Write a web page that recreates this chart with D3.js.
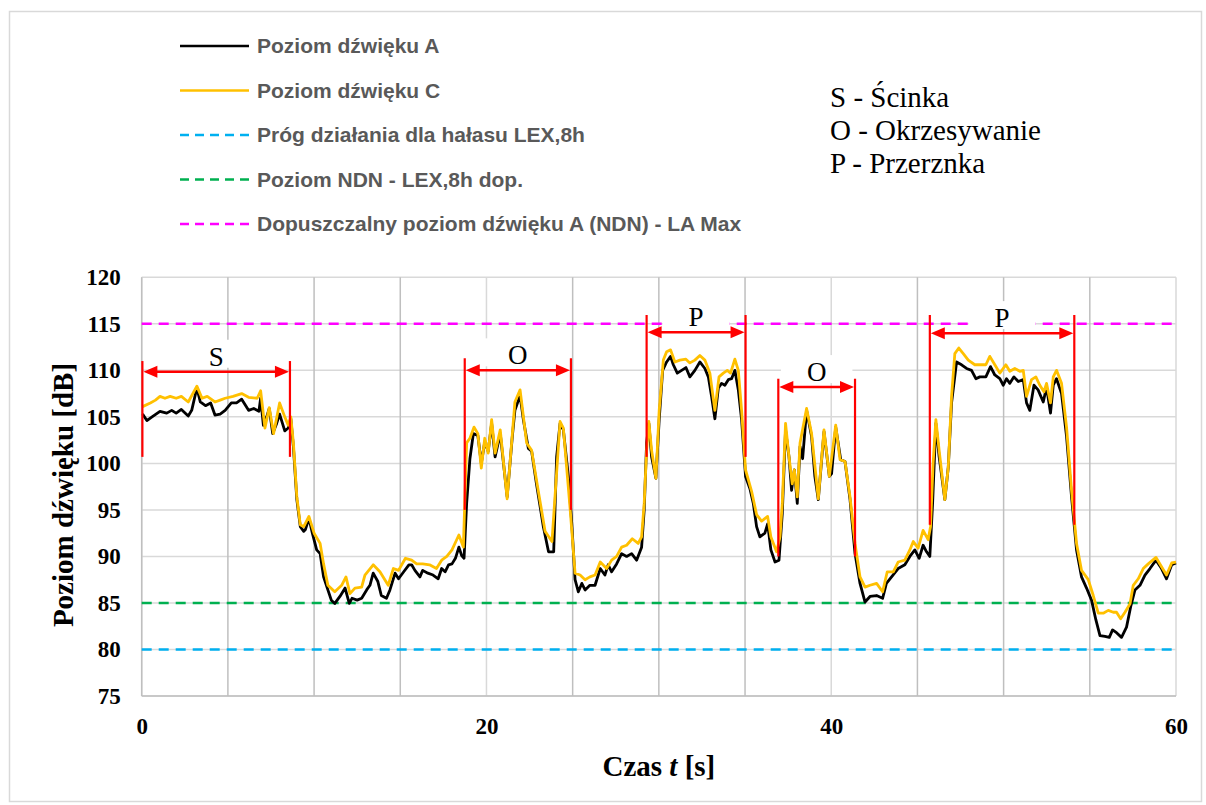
<!DOCTYPE html>
<html>
<head>
<meta charset="utf-8">
<script src="https://d3js.org/d3.v7.min.js"></script>
<style>
    body { margin: 0; background: #fff; }
    svg { display: block; }
</style>
</head>
<body>
<svg id="chart" width="1206" height="805"></svg>
<script>
// czas [s] i poziom dźwięku A [dB]
const timeA = [0.05, 0.3, 0.6, 1.06, 1.45, 1.74, 2.0, 2.3, 2.7, 2.9, 3.2, 3.4, 3.7, 4.0, 4.25, 4.55, 4.84, 5.2, 5.5, 5.8, 6.2, 6.5, 6.8, 6.9, 7.06, 7.25, 7.4, 7.6, 7.83, 8.0, 8.3, 8.5, 8.65, 8.8, 9.0, 9.2, 9.4, 9.5, 9.7, 9.9, 10.15, 10.35, 10.55, 10.8, 11.0, 11.2, 11.5, 11.8, 12.04, 12.2, 12.5, 12.76, 13.05, 13.24, 13.43, 13.7, 13.9, 14.2, 14.4, 14.7, 14.9, 15.2, 15.5, 15.66, 15.85, 16.14, 16.3, 16.6, 16.9, 17.2, 17.4, 17.6, 17.8, 18.0, 18.2, 18.4, 18.56, 18.7, 18.85, 19.04, 19.24, 19.5, 19.7, 19.9, 20.1, 20.3, 20.5, 20.8, 21.2, 21.5, 21.65, 21.95, 22.14, 22.43, 22.62, 22.9, 23.3, 23.6, 23.9, 24.07, 24.27, 24.46, 24.75, 24.95, 25.14, 25.33, 25.53, 25.72, 26.0, 26.3, 26.6, 26.87, 27.06, 27.26, 27.55, 27.84, 28.13, 28.42, 28.71, 29.0, 29.15, 29.29, 29.42, 29.58, 29.83, 30.02, 30.22, 30.45, 30.68, 30.84, 31.07, 31.32, 31.57, 31.8, 32.09, 32.38, 32.67, 32.87, 33.06, 33.25, 33.45, 33.64, 33.83, 34.03, 34.22, 34.41, 34.61, 34.8, 35.03, 35.28, 35.48, 35.67, 35.86, 36.15, 36.31, 36.5, 36.74, 36.97, 37.16, 37.35, 37.55, 37.7, 37.86, 38.03, 38.19, 38.34, 38.57, 38.86, 39.05, 39.25, 39.58, 39.89, 40.02, 40.26, 40.55, 40.8, 41.09, 41.38, 41.67, 41.96, 42.25, 42.63, 42.98, 43.2, 43.5, 43.88, 44.27, 44.56, 44.85, 45.1, 45.33, 45.53, 45.72, 45.88, 46.07, 46.26, 46.59, 46.79, 46.98, 47.27, 47.56, 47.85, 48.14, 48.39, 48.62, 48.97, 49.24, 49.49, 49.78, 49.98, 50.17, 50.36, 50.6, 50.85, 51.14, 51.33, 51.52, 51.76, 52.0, 52.3, 52.49, 52.72, 52.88, 53.07, 53.36, 53.65, 53.94, 54.23, 54.52, 54.81, 55.1, 55.35, 55.59, 55.88, 56.13, 56.32, 56.55, 56.84, 57.13, 57.37, 57.62, 57.91, 58.2, 58.49, 58.84, 59.16, 59.45, 59.75, 60.0];
const levelA = [105.3, 104.6, 105.0, 105.6, 105.4, 105.7, 105.4, 105.8, 105.1, 105.7, 108.1, 106.6, 106.2, 106.5, 105.2, 105.3, 105.7, 106.5, 106.5, 106.9, 105.7, 105.9, 105.6, 107.0, 104.1, 105.0, 105.9, 103.2, 104.3, 105.3, 103.5, 103.8, 104.8, 101.8, 96.1, 93.2, 92.7, 92.9, 94.1, 92.5, 90.7, 90.3, 87.8, 86.4, 85.3, 84.95, 85.7, 86.6, 84.95, 85.5, 85.3, 85.5, 86.4, 86.9, 88.2, 87.3, 85.8, 85.5, 86.4, 88.2, 87.6, 88.35, 89.1, 89.1, 88.5, 87.8, 88.5, 88.2, 88.0, 87.6, 88.7, 88.35, 89.1, 89.2, 89.8, 91.0, 90.1, 89.8, 95.7, 100.5, 103.2, 103.0, 100.0, 102.3, 101.3, 104.3, 100.7, 103.2, 96.4, 102.9, 105.7, 107.3, 104.7, 101.6, 101.3, 97.8, 93.2, 90.5, 90.5, 100.7, 104.3, 103.6, 98.6, 93.5, 87.5, 86.2, 87.1, 86.4, 86.9, 86.9, 88.7, 88.0, 89.1, 88.35, 89.2, 90.3, 90.0, 90.3, 89.6, 91.0, 95.0, 102.2, 104.3, 100.7, 98.4, 104.7, 110.0, 110.9, 111.5, 110.6, 109.7, 110.0, 110.3, 109.3, 110.0, 110.9, 110.2, 109.3, 107.2, 104.8, 108.1, 108.6, 108.4, 109.0, 109.1, 110.0, 107.9, 104.7, 98.6, 97.3, 95.7, 93.2, 92.1, 92.5, 93.5, 90.7, 89.4, 89.6, 94.6, 103.6, 100.7, 97.1, 99.3, 95.7, 101.8, 100.5, 105.7, 102.9, 98.6, 96.1, 103.4, 98.6, 98.9, 103.9, 100.4, 100.2, 96.1, 90.3, 87.1, 85.1, 85.7, 85.8, 85.5, 87.1, 87.8, 88.7, 89.1, 90.0, 90.7, 89.8, 91.2, 90.5, 90.0, 95.7, 104.3, 100.7, 96.1, 99.6, 106.5, 110.9, 110.6, 110.2, 110.0, 109.1, 109.3, 109.3, 110.4, 109.5, 109.1, 108.4, 109.1, 108.6, 109.3, 108.8, 109.0, 106.5, 105.7, 108.4, 107.9, 106.6, 108.2, 105.4, 108.4, 109.1, 107.5, 102.9, 96.4, 90.7, 87.8, 86.6, 85.3, 83.2, 81.5, 81.4, 81.3, 82.1, 81.8, 81.3, 82.4, 84.6, 86.4, 86.9, 88.0, 88.7, 89.6, 88.7, 87.6, 89.1, 89.3];

// czas [s] i poziom dźwięku C [dB]
const timeC = [0.05, 0.5, 0.8, 1.06, 1.35, 1.65, 2.0, 2.3, 2.7, 3.2, 3.5, 3.8, 4.25, 4.55, 4.84, 5.3, 5.8, 6.2, 6.7, 6.9, 7.15, 7.4, 7.65, 8.0, 8.3, 8.5, 8.65, 8.8, 9.0, 9.2, 9.4, 9.7, 10.0, 10.35, 10.55, 10.8, 11.2, 11.6, 11.85, 12.08, 12.37, 12.76, 12.95, 13.43, 13.82, 14.3, 14.6, 14.9, 15.3, 15.66, 15.95, 16.3, 16.7, 17.1, 17.4, 17.7, 18.0, 18.4, 18.66, 18.85, 19.04, 19.28, 19.5, 19.7, 19.9, 20.1, 20.3, 20.5, 20.8, 21.2, 21.65, 21.95, 22.33, 22.62, 23.0, 23.4, 23.8, 24.27, 24.46, 24.85, 25.14, 25.43, 25.72, 26.0, 26.3, 26.6, 26.97, 27.26, 27.55, 27.84, 28.13, 28.46, 28.8, 29.0, 29.15, 29.29, 29.42, 29.58, 29.83, 30.02, 30.26, 30.45, 30.68, 30.93, 31.22, 31.57, 31.8, 32.09, 32.38, 32.67, 32.96, 33.25, 33.49, 33.74, 33.97, 34.16, 34.41, 34.61, 34.8, 35.03, 35.38, 35.67, 35.96, 36.31, 36.5, 36.83, 37.03, 37.16, 37.35, 37.55, 37.74, 37.86, 38.03, 38.19, 38.57, 38.86, 39.25, 39.58, 39.89, 40.26, 40.51, 40.8, 41.09, 41.38, 41.67, 41.96, 42.25, 42.63, 42.98, 43.25, 43.6, 43.88, 44.27, 44.56, 44.76, 45.04, 45.33, 45.62, 45.76, 45.91, 46.07, 46.26, 46.59, 46.79, 46.98, 47.17, 47.4, 47.66, 47.95, 48.33, 48.62, 48.97, 49.2, 49.49, 49.78, 50.13, 50.36, 50.65, 50.94, 51.14, 51.33, 51.62, 51.87, 52.1, 52.34, 52.49, 52.72, 52.88, 53.07, 53.36, 53.65, 53.94, 54.23, 54.52, 54.91, 55.2, 55.49, 55.78, 56.07, 56.36, 56.55, 56.79, 57.04, 57.33, 57.52, 57.81, 58.1, 58.39, 58.84, 59.16, 59.45, 59.75, 60.0];
const levelC = [106.1, 106.5, 106.8, 107.2, 107.0, 107.2, 107.0, 107.2, 106.6, 108.3, 107.0, 107.2, 106.6, 106.8, 107.0, 107.2, 107.5, 107.1, 107.0, 107.8, 103.8, 106.0, 103.2, 106.5, 105.0, 104.1, 105.0, 102.2, 96.4, 93.4, 93.2, 94.3, 92.5, 91.4, 89.2, 86.9, 86.2, 86.9, 87.8, 86.0, 86.6, 86.7, 88.0, 89.1, 88.35, 86.9, 88.7, 88.5, 89.8, 89.6, 89.2, 89.2, 89.1, 88.7, 89.6, 90.0, 90.7, 92.3, 91.0, 102.2, 102.7, 103.9, 103.2, 99.5, 102.7, 101.1, 104.7, 101.1, 103.6, 96.2, 106.6, 107.9, 102.2, 101.4, 97.1, 92.7, 91.6, 104.5, 103.8, 95.2, 88.2, 88.0, 87.5, 87.8, 88.0, 89.4, 88.7, 89.6, 90.0, 91.0, 91.2, 91.9, 91.4, 92.1, 95.7, 101.4, 104.5, 101.4, 98.4, 105.7, 111.1, 112.0, 112.2, 110.9, 111.1, 111.2, 110.8, 111.1, 111.6, 111.1, 109.7, 105.7, 109.3, 109.7, 110.0, 109.7, 111.2, 110.0, 105.7, 99.3, 97.0, 94.5, 93.8, 94.3, 92.1, 90.5, 92.1, 95.7, 104.3, 100.7, 97.8, 99.3, 96.4, 102.2, 105.9, 103.2, 96.2, 103.6, 98.6, 104.1, 100.4, 100.2, 96.4, 91.4, 87.8, 86.7, 86.9, 87.1, 86.2, 88.35, 88.35, 89.4, 89.6, 90.7, 91.6, 90.9, 92.8, 91.8, 93.2, 100.0, 104.7, 101.4, 96.1, 99.6, 107.2, 111.8, 112.4, 111.8, 111.1, 110.6, 110.6, 110.6, 111.5, 110.6, 109.7, 110.6, 109.9, 110.2, 109.9, 110.0, 107.2, 109.0, 109.3, 108.4, 107.7, 108.6, 106.5, 109.3, 110.0, 108.6, 103.9, 97.1, 91.4, 88.5, 87.5, 85.8, 83.9, 83.9, 84.2, 84.0, 84.0, 83.3, 84.0, 84.9, 86.9, 87.6, 88.7, 89.2, 89.9, 88.9, 88.0, 89.3, 89.4];

// progi (linie przerywane)
const limitNames = ["Próg działania dla hałasu LEX,8h", "Poziom NDN - LEX,8h dop.", "Dopuszczalny poziom dźwięku A (NDN) - LA Max"];
const limitValues = [80, 85, 115];
const limitColors = ["#00b0f0", "#00b050", "#ff00ff"];

const seriesNames = ["Poziom dźwięku A", "Poziom dźwięku C"];
const seriesColors = ["#000000", "#ffc000"];

// odcinki czynności: S/O/P
const stageLabels = ["S", "O", "P", "O", "P"];
const stageStart = [0.04, 18.74, 29.29, 36.93, 45.72];
const stageEnd = [8.6, 24.9, 35.03, 41.38, 54.1];
const stageTop = [111.0, 111.3, 115.95, 109.1, 115.95];
const stageBottom = [100.7, 95.0, 100.7, 90.0, 93.4];
const stageArrow = [109.85, 110.0, 114.1, 108.2, 114.0];

const keyLines = ["S - Ścinka", "O - Okrzesywanie", "P - Przerznka"];

const yTicks = [75, 80, 85, 90, 95, 100, 105, 110, 115, 120];
const xTicks = [0, 20, 40, 60];
const xGrid = d3.range(0, 61, 5);

const SERIF = "'Liberation Serif', 'Times New Roman', serif";
const SANS = "'Liberation Sans', Arial, sans-serif";

const svg = d3.select("#chart");

// ramka wykresu
svg.append("rect")
    .attr("x", 9.5).attr("y", 11.5)
    .attr("width", 1192).attr("height", 790)
    .attr("fill", "#fff")
    .attr("stroke", "#d9d9d9")
    .attr("stroke-width", 1.5);

const x = d3.scaleLinear().domain([0, 60]).range([141.7, 1176]);
const y = d3.scaleLinear().domain([75, 120]).range([696, 277.3]);

const plot = svg.append("g");

// siatka pozioma
plot.append("g")
    .selectAll("line")
    .data(yTicks)
    .join("line")
    .attr("x1", x(0)).attr("x2", x(60))
    .attr("y1", d => y(d)).attr("y2", d => y(d))
    .attr("stroke", "#d9d9d9")
    .attr("stroke-width", 1.5);

// siatka pionowa (co 5 s ciemniejsza, co 20 s jaśniejsza)
plot.append("g")
    .selectAll("line")
    .data(xGrid)
    .join("line")
    .attr("x1", d => x(d)).attr("x2", d => x(d))
    .attr("y1", y(120)).attr("y2", y(75))
    .attr("stroke", d => d % 20 === 0 ? "#d9d9d9" : "#bfbfbf")
    .attr("stroke-width", 1.5);

// osie
plot.append("line")
    .attr("x1", x(0)).attr("x2", x(0))
    .attr("y1", y(120)).attr("y2", y(75))
    .attr("stroke", "#bfbfbf").attr("stroke-width", 1.5);
plot.append("line")
    .attr("x1", x(0)).attr("x2", x(60))
    .attr("y1", y(75)).attr("y2", y(75))
    .attr("stroke", "#bfbfbf").attr("stroke-width", 1.5);

const yAxis = svg.append("g")
    .attr("transform", `translate(${x(0)},0)`)
    .call(d3.axisLeft(y).tickValues(yTicks).tickSize(0).tickPadding(21));
const xAxis = svg.append("g")
    .attr("transform", `translate(0,${y(75)})`)
    .call(d3.axisBottom(x).tickValues(xTicks).tickSize(0).tickPadding(22));
[yAxis, xAxis].forEach(ax => {
    ax.select(".domain").remove();
    ax.selectAll("text")
        .attr("font-family", SERIF)
        .attr("font-weight", "bold")
        .attr("font-size", 23)
        .attr("fill", "#000");
});

// progi
plot.append("g")
    .selectAll("line")
    .data(limitValues)
    .join("line")
    .attr("x1", x(0)).attr("x2", x(60))
    .attr("y1", d => y(d)).attr("y2", d => y(d))
    .attr("stroke", (d, i) => limitColors[i])
    .attr("stroke-width", 2.5)
    .attr("stroke-dasharray", "10,7");

// przebiegi
const line = d3.line()
    .x(d => x(d[0]))
    .y(d => y(d[1]));

const dataA = timeA.map((t, i) => [t, levelA[i]]);
const dataC = timeC.map((t, i) => [t, levelC[i]]);

plot.append("path")
    .datum(dataA)
    .attr("d", line)
    .attr("fill", "none")
    .attr("stroke", seriesColors[0])
    .attr("stroke-width", 2.8)
    .attr("stroke-linejoin", "round");
plot.append("path")
    .datum(dataC)
    .attr("d", line)
    .attr("fill", "none")
    .attr("stroke", seriesColors[1])
    .attr("stroke-width", 2.8)
    .attr("stroke-linejoin", "round");

// oznaczenia odcinków
const RED = "#ff0000";
stageLabels.forEach((lab, i) => {
    let g = svg.append("g");
    let x0 = x(stageStart[i]);
    let x1 = x(stageEnd[i]);
    let ya = y(stageArrow[i]);
    let cx = (x0 + x1) / 2;

    // biały prostokąt pod literą
    let txt = g.append("text")
        .attr("x", cx)
        .attr("y", ya - 6)
        .attr("text-anchor", "middle")
        .attr("font-family", SERIF)
        .attr("font-size", 27)
        .attr("fill", "#000")
        .text(lab);
    let bb = txt.node().getBBox();
    g.insert("rect", "text")
        .attr("x", bb.x - 26)
        .attr("y", bb.y - 2)
        .attr("width", bb.width + 52)
        .attr("height", ya - bb.y - 2)
        .attr("fill", "#fff");

    [x0, x1].forEach(xx => {
        g.append("line")
            .attr("x1", xx).attr("x2", xx)
            .attr("y1", y(stageTop[i])).attr("y2", y(stageBottom[i]))
            .attr("stroke", RED).attr("stroke-width", 2.2);
    });
    g.append("line")
        .attr("x1", x0 + 12).attr("x2", x1 - 12)
        .attr("y1", ya).attr("y2", ya)
        .attr("stroke", RED).attr("stroke-width", 2.5);
    // groty strzałek
    g.append("path")
        .attr("d", `M${x0 + 1},${ya} L${x0 + 15},${ya - 6} L${x0 + 15},${ya + 6} Z`)
        .attr("fill", RED);
    g.append("path")
        .attr("d", `M${x1 - 1},${ya} L${x1 - 15},${ya - 6} L${x1 - 15},${ya + 6} Z`)
        .attr("fill", RED);
});

// legenda
const legendItems = [
    { name: seriesNames[0], color: seriesColors[0], dash: null },
    { name: seriesNames[1], color: seriesColors[1], dash: null },
    ...limitNames.map((n, i) => ({ name: n, color: limitColors[i], dash: "9,6" }))
];
const legend = svg.append("g");
legendItems.forEach((it, i) => {
    let ly = 46 + i * 44.5;
    legend.append("line")
        .attr("x1", 180).attr("x2", 249)
        .attr("y1", ly).attr("y2", ly)
        .attr("stroke", it.color)
        .attr("stroke-width", 2.5)
        .attr("stroke-dasharray", it.dash);
    legend.append("text")
        .attr("x", 257)
        .attr("y", ly)
        .attr("dy", "0.35em")
        .attr("font-family", SANS)
        .attr("font-weight", "bold")
        .attr("font-size", 21)
        .attr("fill", "#595959")
        .text(it.name);
});

// objaśnienia skrótów
svg.append("g")
    .selectAll("text")
    .data(keyLines)
    .join("text")
    .attr("x", 830)
    .attr("y", (d, i) => 107 + i * 33)
    .attr("font-family", SERIF)
    .attr("font-size", 29)
    .attr("fill", "#000")
    .text(d => d);

// tytuły osi
svg.append("text")
    .attr("transform", `translate(73,495) rotate(-90)`)
    .attr("text-anchor", "middle")
    .attr("font-family", SERIF)
    .attr("font-weight", "bold")
    .attr("font-size", 29)
    .attr("fill", "#000")
    .text("Poziom dźwięku [dB]");

const xt = svg.append("text")
    .attr("x", (x(0) + x(60)) / 2)
    .attr("y", 776)
    .attr("text-anchor", "middle")
    .attr("font-family", SERIF)
    .attr("font-weight", "bold")
    .attr("font-size", 29)
    .attr("fill", "#000");
xt.append("tspan").text("Czas ");
xt.append("tspan").attr("font-style", "italic").text("t");
xt.append("tspan").text(" [s]");
</script>
</body>
</html>
